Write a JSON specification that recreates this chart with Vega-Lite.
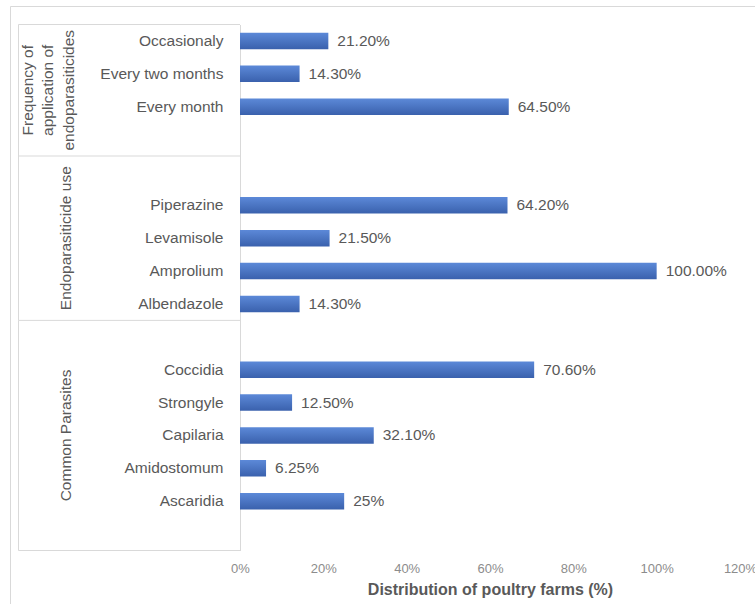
{
  "$schema": "https://vega.github.io/schema/vega-lite/v6.json",
  "width": 745,
  "height": 598,
  "autosize": {"type": "none"},
  "padding": {"left": 10, "top": 6, "right": 0, "bottom": 0},
  "config": {"view": {"stroke": "#d9d9d9"}, "font": "Liberation Sans"},
  "datasets": {
    "farms": [
      {"group": "Frequency of application of endoparasiticides", "item": "Occasionaly", "value": 0.212, "label": "21.20%"},
      {"group": "Frequency of application of endoparasiticides", "item": "Every two months", "value": 0.143, "label": "14.30%"},
      {"group": "Frequency of application of endoparasiticides", "item": "Every month", "value": 0.645, "label": "64.50%"},
      {"group": "Endoparasiticide use", "item": "Piperazine", "value": 0.642, "label": "64.20%"},
      {"group": "Endoparasiticide use", "item": "Levamisole", "value": 0.215, "label": "21.50%"},
      {"group": "Endoparasiticide use", "item": "Amprolium", "value": 1.0, "label": "100.00%"},
      {"group": "Endoparasiticide use", "item": "Albendazole", "value": 0.143, "label": "14.30%"},
      {"group": "Common Parasites", "item": "Coccidia", "value": 0.706, "label": "70.60%"},
      {"group": "Common Parasites", "item": "Strongyle", "value": 0.125, "label": "12.50%"},
      {"group": "Common Parasites", "item": "Capilaria", "value": 0.321, "label": "32.10%"},
      {"group": "Common Parasites", "item": "Amidostomum", "value": 0.0625, "label": "6.25%"},
      {"group": "Common Parasites", "item": "Ascaridia", "value": 0.25, "label": "25%"}
    ],
    "groups": [
      {"group": "Frequency of\napplication of\nendoparasiticides", "first": "Occasionaly", "last": "gap1", "center": "Every month"},
      {"group": "Endoparasiticide use", "first": "gap2", "last": "Albendazole", "center": "Levamisole"},
      {"group": "Common Parasites", "first": "gap3", "last": "gap4", "center": "Capilaria"}
    ]
  },
  "encoding": {
    "y": {
      "field": "item",
      "type": "nominal",
      "sort": null,
      "scale": {
        "domain": ["Occasionaly", "Every two months", "Every month", "gap1", "gap2", "Piperazine", "Levamisole", "Amprolium", "Albendazole", "gap3", "Coccidia", "Strongyle", "Capilaria", "Amidostomum", "Ascaridia", "gap4"],
        "range": [18.5, 544.5],
        "paddingInner": 0,
        "paddingOuter": 0
      },
      "axis": {
        "orient": "left",
        "offset": -230,
        "title": null,
        "ticks": false,
        "grid": false,
        "domainColor": "#d9d9d9",
        "labelFontSize": 15.5,
        "labelColor": "#595959",
        "labelPadding": 17,
        "labelExpr": "indexof(datum.value, 'gap') === 0 ? '' : datum.value"
      }
    }
  },
  "layer": [
    {
      "data": {"name": "farms"},
      "mark": {
        "type": "bar",
        "height": {"band": 0.5},
        "color": {"gradient": "linear", "x1": 0, "y1": 0, "x2": 0, "y2": 1, "stops": [{"offset": 0, "color": "#5c89d8"}, {"offset": 1, "color": "#3a61ad"}]}
      },
      "encoding": {
        "x": {
          "field": "value",
          "type": "quantitative",
          "scale": {"domain": [-0.552, 1.236], "nice": false, "zero": false},
          "axis": {
            "orient": "bottom",
            "offset": -44,
            "values": [0, 0.2, 0.4, 0.6, 0.8, 1.0, 1.2],
            "format": ".0%",
            "ticks": false,
            "domain": false,
            "grid": false,
            "labelFontSize": 13,
            "labelColor": "#8c8c8c",
            "labelPadding": 2,
            "title": "Distribution  of poultry farms (%)",
            "titleFontSize": 16,
            "titleFontWeight": "bold",
            "titleColor": "#595959",
            "titlePadding": 6,
            "titleX": 480
          }
        },
        "x2": {"datum": 0}
      }
    },
    {
      "data": {"name": "farms"},
      "mark": {"type": "text", "align": "left", "dx": 9, "fontSize": 15.5, "color": "#595959"},
      "encoding": {
        "x": {"field": "value", "type": "quantitative"},
        "text": {"field": "label"}
      }
    },
    {
      "data": {"name": "groups"},
      "transform": [{"filter": "datum.center === 'Every month'"}],
      "mark": {"type": "text", "angle": 270, "align": "center", "baseline": "bottom", "lineBreak": "\n", "lineHeight": 20.5, "fontSize": 15.5, "color": "#595959"},
      "encoding": {
        "x": {"datum": -0.49},
        "y": {"field": "center", "type": "nominal", "bandPosition": 0},
        "text": {"field": "group"}
      }
    },
    {
      "data": {"name": "groups"},
      "transform": [{"filter": "datum.center !== 'Every month'"}],
      "mark": {"type": "text", "angle": 270, "align": "center", "baseline": "bottom", "fontSize": 15.5, "color": "#595959"},
      "encoding": {
        "x": {"datum": -0.398},
        "y": {"field": "center", "type": "nominal", "bandPosition": 0.5},
        "text": {"field": "group"}
      }
    },
    {
      "data": {"name": "groups"},
      "mark": {"type": "rule", "color": "#d9d9d9"},
      "encoding": {
        "x": {"datum": -0.5316},
        "x2": {"datum": 0},
        "y": {"field": "first", "type": "nominal", "bandPosition": 0}
      }
    },
    {
      "data": {"name": "groups"},
      "transform": [{"filter": "datum.last === 'gap4'"}],
      "mark": {"type": "rule", "color": "#d9d9d9"},
      "encoding": {
        "x": {"datum": -0.5316},
        "x2": {"datum": 0},
        "y": {"field": "last", "type": "nominal", "bandPosition": 1}
      }
    },
    {
      "data": {"name": "groups"},
      "mark": {"type": "rule", "color": "#d9d9d9"},
      "encoding": {
        "x": {"datum": -0.5316},
        "y": {"field": "first", "type": "nominal", "bandPosition": 0},
        "y2": {"field": "last", "bandPosition": 1}
      }
    }
  ]
}
